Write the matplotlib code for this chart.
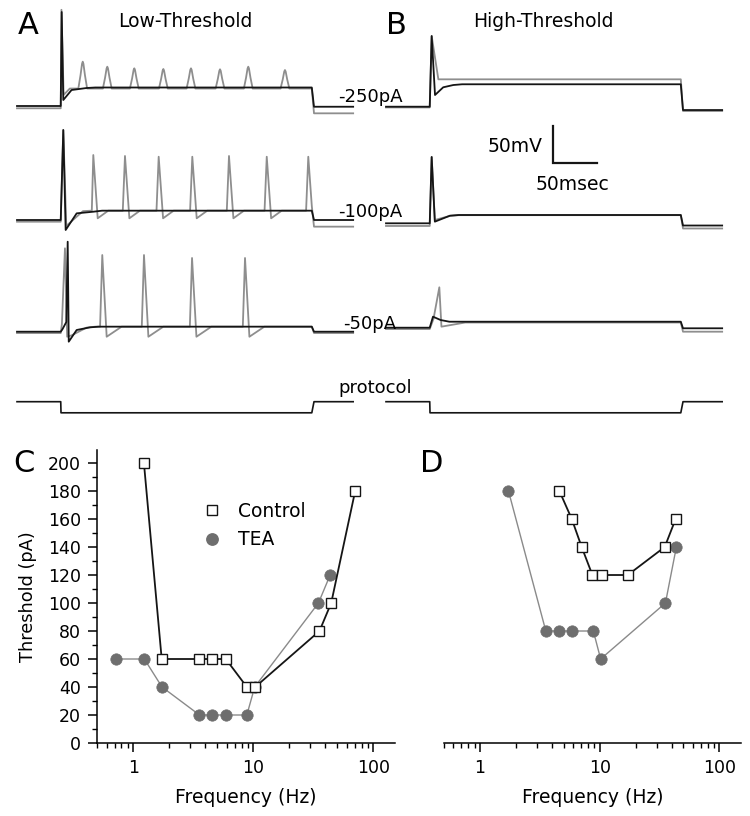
import matplotlib
matplotlib.use("Agg")
import matplotlib.pyplot as plt
from matplotlib.lines import Line2D
from matplotlib.ticker import FixedLocator, FixedFormatter, LogLocator, MultipleLocator, NullFormatter

# ======================= DATA =======================
# --- Panel C (low-threshold): threshold (pA) vs frequency (Hz)
c_control_hz = [1.23, 1.73, 3.57, 4.58, 5.92, 8.86, 10.4, 35.7, 44.7, 70.8]
c_control_pa = [200, 60, 60, 60, 60, 40, 40, 80, 100, 180]
c_tea_hz = [0.72, 1.24, 1.74, 3.57, 4.58, 5.92, 8.86, 10.3, 35.0, 43.8]
c_tea_pa = [60, 60, 40, 20, 20, 20, 20, 40, 100, 120]
# --- Panel D (high-threshold)
d_control_hz = [4.61, 5.85, 7.08, 8.7, 10.4, 17.2, 35.0, 43.2]
d_control_pa = [180, 160, 140, 120, 120, 120, 140, 160]
d_tea_hz = [1.73, 3.55, 4.58, 5.88, 8.86, 10.2, 35.5, 43.8]
d_tea_pa = [180, 80, 80, 80, 80, 60, 100, 140]

y_ticks = [0, 20, 40, 60, 80, 100, 120, 140, 160, 180, 200]
x_ticks = [1, 10, 100]
x_tick_labels = ["1", "10", "100"]
legend_labels = ["Control", "TEA"]

# --- Voltage traces (ms relative to step onset, mV relative to resting level)
T_START, T_ON, T_OFF, T_END = -50, 0, 285, 332
SCALE_MV, SCALE_MS = 50, 50
PROTOCOL_STEP = -15

# A, -250 pA
a250_black_lv = (0, 25, -1)            # pre, plateau, post
a250_black_init = [(0.8, 127), (2.6, 8.1), (12, 21.6), (29, 24.3)]
a250_gray_lv = (-3.1, 23.6, -9.9)
a250_gray_init = [(0.5, 130), (3, 15), (10, 23.6)]
a250_gray_spk_t = [24.7, 52.6, 83.3, 116.3, 147.7, 180.7, 212.8, 254.5]
a250_gray_spk_mv = [59.9, 53.1, 50.9, 50.0, 50.9, 49.6, 53.1, 48.6]
# A, -100 pA
a100_black_lv = (0, 12.6, 0)
a100_black_init = [(2.6, 121.6), (5.3, -13.5), (17.8, 9.0), (36.7, 11.2)]
a100_gray_lv = (-2.3, 12.6, -9.0)
a100_gray_init = [(2.6, 121.6), (6, -8.0), (25, 12.0)]
a100_gray_spk_t = [36.7, 72.7, 111.0, 149.2, 190.9, 233.8, 281.0]
a100_gray_spk_mv = [87.8, 86.5, 85.5, 85.5, 86.5, 85.5, 85.5]
a100_gray_under = 2.3
# A, -50 pA
a50_black_lv = (0, 6.8, 0)
a50_black_init = [(1.5, 3), (6, 13), (7.6, 121.6), (8.8, -13.5), (17.8, 2.3), (33, 5.9)]
a50_gray_lv = (-1.8, 6.8, -1.8)
a50_gray_init = [(1, 10), (4.5, 112.7), (7, -6.8), (12, -5.0), (29, 5.5)]
a50_gray_spk_t = [46.9, 94.3, 148.9, 209.1]
a50_gray_spk_mv = [103.6, 103.6, 99.6, 99.6]
a50_gray_under = -6.8
# B, -250 pA
b250_black_lv = (0, 30.3, -4.5)
b250_black_init = [(1.9, 95.5), (5.7, 15.8), (15, 26.2), (26.5, 29.3)]
b250_gray_lv = (-1.0, 37.0, -5.8)
b250_gray_init = [(1.9, 95.5), (9.5, 37.0)]
# B, -100 pA
b100_black_lv = (0, 11.2, -3.0)
b100_black_init = [(1.9, 89.6), (5.5, 2.2), (22.7, 10.3)]
b100_gray_lv = (-3.6, 11.0, -7.0)
b100_gray_init = [(1.9, 89.6), (5.5, 4.5), (22.7, 10.0)]
# B, -50 pA
b50_black_lv = (0, 8.1, -0.8)
b50_black_init = [(-1, 0), (3.4, 14.9), (12, 10.4)]
b50_gray_lv = (-1.8, 7.0, -5.4)
b50_gray_init = [(-1, -1.8), (4, 12), (10.6, 54.6), (13, 1.4), (40, 7.0)]

# ======================= LAYOUT =======================
W, H = 750, 816
PX_PER_MS, PX_PER_MV = 0.88, 0.74
TOP_H = 425                       # px height of trace area
BLACK, GRAY_TR = "#151515", "#8e8e8e"
GRAY_LINE, GRAY_DOT = "#8a8a8a", "#6e6e6e"
FONT = "DejaVu Sans"

plt.rcParams["font.family"] = [FONT]
fig = plt.figure(figsize=(W / 100, H / 100), dpi=100)


def ftxt(x, y, s, **kw):
    fig.text(x / W, 1 - y / H, s, **kw)


def build_trace(levels, init, spk_t=(), spk_mv=(), shape="sharp", under=0.0,
                recover=18, settle=10):
    pre, plat, post = levels
    t, v = [T_START, T_ON - 0.3], [pre, pre]
    for ti, vi in init:
        if ti > t[-1]:
            t.append(ti); v.append(vi)
    if not init:
        t.append(T_ON); v.append(plat)
    elif v[-1] != plat:
        t.append(t[-1] + settle); v.append(plat)
    done = False
    for ts, vp in zip(spk_t, spk_mv):
        if done:
            break
        d = vp - plat
        if shape == "broad":
            seg = [(ts - 5.0, plat), (ts - 2.5, plat + 0.5 * d), (ts - 0.8, plat + 0.92 * d),
                   (ts, vp), (ts + 0.8, plat + 0.92 * d), (ts + 2.5, plat + 0.5 * d),
                   (ts + 5.0, plat)]
        else:
            seg = [(ts - 2.5, plat), (ts, vp), (ts + 5.0, under), (ts + recover, plat)]
        for ti, vi in seg:
            if ti >= T_OFF:       # cut the spike where the current step ends
                f = (T_OFF - t[-1]) / (ti - t[-1])
                t.append(T_OFF); v.append(v[-1] + f * (vi - v[-1]))
                done = True
                break
            if ti > t[-1]:
                t.append(ti); v.append(vi)
    if t[-1] < T_OFF:
        end_v = v[-1] if t[-1] > T_OFF - recover else plat
        t.append(T_OFF); v.append(end_v)
    t += [T_OFF + 2.5, T_END]
    v += [post, post]
    return t, v


def add_trace(ax, tv, offset, color, lw=1.3, z=2):
    t, v = tv
    ax.plot(t, [vi + offset for vi in v], color=color, lw=lw, zorder=z,
            solid_joinstyle="round")


def trace_axes(onset_px):
    left = onset_px - 60 * PX_PER_MS
    ax = fig.add_axes([left / W, 1 - TOP_H / H, 410 * PX_PER_MS / W, TOP_H / H])
    ax.set_xlim(-60, 350)
    ax.set_ylim(0, TOP_H / PX_PER_MV)
    ax.axis("off")
    return ax


def row(px):  # vertical offset (mV units) of a trace whose rest level sits at px
    return (TOP_H - px) / PX_PER_MV


axA = trace_axes(61)
axB = trace_axes(430)

# Panel A traces
add_trace(axA, build_trace(a250_gray_lv, a250_gray_init, a250_gray_spk_t, a250_gray_spk_mv, "broad"), row(106), GRAY_TR)
add_trace(axA, build_trace(a250_black_lv, a250_black_init), row(106), BLACK, z=3)
add_trace(axA, build_trace(a100_gray_lv, a100_gray_init, a100_gray_spk_t, a100_gray_spk_mv, "sharp", a100_gray_under, 17), row(220), GRAY_TR)
add_trace(axA, build_trace(a100_black_lv, a100_black_init), row(220), BLACK, z=3)
add_trace(axA, build_trace(a50_gray_lv, a50_gray_init, a50_gray_spk_t, a50_gray_spk_mv, "sharp", a50_gray_under, 22), row(331.7), GRAY_TR)
add_trace(axA, build_trace(a50_black_lv, a50_black_init), row(331.7), BLACK, z=3)

# Panel B traces
add_trace(axB, build_trace(b250_gray_lv, b250_gray_init), row(106.7), GRAY_TR)
add_trace(axB, build_trace(b250_black_lv, b250_black_init), row(106.7), BLACK, z=3)
add_trace(axB, build_trace(b100_gray_lv, b100_gray_init), row(223.3), GRAY_TR)
add_trace(axB, build_trace(b100_black_lv, b100_black_init), row(223.3), BLACK, z=3)
add_trace(axB, build_trace(b50_gray_lv, b50_gray_init), row(327.7), GRAY_TR)
add_trace(axB, build_trace(b50_black_lv, b50_black_init), row(327.7), BLACK, z=3)

# protocol traces
for ax in (axA, axB):
    add_trace(ax, build_trace((0, PROTOCOL_STEP, 0), []), row(401.7), BLACK, lw=1.2)

# scale bar (in panel B data units)
sb_t, sb_v = 139.4, row(163.3)
axB.plot([sb_t, sb_t, sb_t + SCALE_MS], [sb_v + SCALE_MV, sb_v, sb_v], color=BLACK, lw=1.6,
         solid_joinstyle="miter")

# trace texts
ftxt(28, 26, "A", fontsize=22, ha="center", va="center")
ftxt(396, 26, "B", fontsize=22, ha="center", va="center")
ftxt(185, 27, "Low-Threshold", fontsize=13.5, ha="center", va="baseline")
ftxt(543, 27, "High-Threshold", fontsize=13.5, ha="center", va="baseline")
ftxt(338, 102, "-250pA", fontsize=13, ha="left", va="baseline")
ftxt(338, 217, "-100pA", fontsize=13, ha="left", va="baseline")
ftxt(343, 329, "-50pA", fontsize=13, ha="left", va="baseline")
ftxt(543, 152, "50mV", fontsize=13.5, ha="right", va="baseline")
ftxt(572, 190, "50msec", fontsize=13.5, ha="center", va="baseline")
ftxt(375, 393, "protocol", fontsize=13, ha="center", va="baseline")

# ======================= PANELS C & D =======================
AX_BOTTOM, AX_TOP = 743, 450


def freq_axes(left_px, width_px, show_y):
    ax = fig.add_axes([left_px / W, 1 - AX_BOTTOM / H, width_px / W, (AX_BOTTOM - AX_TOP) / H])
    ax.set_xscale("log")
    ax.set_xlim(0.5, 152)
    ax.set_ylim(0, 209.3)
    for s in ("top", "right"):
        ax.spines[s].set_visible(False)
    ax.spines["bottom"].set_linewidth(1.1)
    ax.spines["left"].set_linewidth(1.1)
    ax.xaxis.set_major_locator(FixedLocator(x_ticks))
    ax.xaxis.set_major_formatter(FixedFormatter(x_tick_labels))
    ax.xaxis.set_minor_locator(LogLocator(base=10, subs=[2, 3, 4, 5, 6, 7, 8, 9]))
    ax.xaxis.set_minor_formatter(NullFormatter())
    ax.tick_params(which="major", direction="out", length=6.5, width=1.1, labelsize=12.5, pad=5)
    ax.tick_params(which="minor", direction="out", length=3.5, width=1.0)
    if show_y:
        ax.yaxis.set_major_locator(FixedLocator(y_ticks))
        ax.yaxis.set_minor_locator(MultipleLocator(10))
        ax.set_ylabel("Threshold (pA)", fontsize=12.8, labelpad=8)
    else:
        ax.spines["left"].set_visible(False)
        ax.set_yticks([])
        ax.set_yticks([], minor=True)
    ax.set_xlabel("Frequency (Hz)", fontsize=13.5, labelpad=8)
    return ax


def plot_pair(ax, ctl_x, ctl_y, tea_x, tea_y):
    ax.plot(tea_x, tea_y, color=GRAY_LINE, lw=1.0, marker="o", ms=8.2, mfc=GRAY_DOT,
            mec=GRAY_DOT, mew=0.5, zorder=2, clip_on=False)
    ax.plot(ctl_x, ctl_y, color=BLACK, lw=1.3, marker="s", ms=7.5, mfc="white",
            mec=BLACK, mew=1.0, zorder=3, clip_on=False)


axC = freq_axes(97, 298, True)
plot_pair(axC, c_control_hz, c_control_pa, c_tea_hz, c_tea_pa)
axD = freq_axes(444, 297, False)
plot_pair(axD, d_control_hz, d_control_pa, d_tea_hz, d_tea_pa)

handles = [Line2D([], [], ls="none", marker="s", ms=7.5, mfc="white", mec=BLACK, mew=1.0),
           Line2D([], [], ls="none", marker="o", ms=8.2, mfc=GRAY_DOT, mec=GRAY_DOT)]
axC.legend(handles, legend_labels, loc="upper left", bbox_to_anchor=(0.355, 0.823),
           frameon=False, fontsize=13.5, handlelength=1.0, handletextpad=0.9,
           labelspacing=0.5, borderaxespad=0, borderpad=0)

ftxt(24, 464, "C", fontsize=22, ha="center", va="center")
ftxt(432, 464, "D", fontsize=22, ha="center", va="center")

fig.savefig("out.png", dpi=100)
